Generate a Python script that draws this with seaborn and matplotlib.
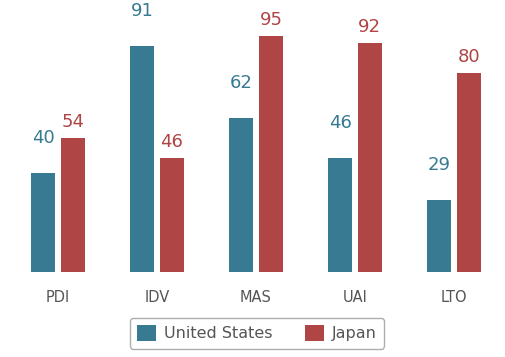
import pandas as pd
import seaborn as sns
import matplotlib.pyplot as plt

# 資料
dimensions = ['PDI', 'IDV', 'MAS', 'UAI', 'LTO']
us_scores = [40, 91, 62, 46, 29]
japan_scores = [54, 46, 95, 92, 80]
countries = ['United States', 'Japan']
colors = ['#377A91', '#AF4545']

df = pd.DataFrame({
    'dimension': dimensions * 2,
    'score': us_scores + japan_scores,
    'country': [countries[0]] * 5 + [countries[1]] * 5,
})

sns.set_style('white')
plt.rcParams['font.family'] = ['DejaVu Sans']

fig = plt.figure(figsize=(5.05, 3.57), dpi=100)
ax = fig.add_axes([0.017, 0.238, 0.98, 0.731])

sns.barplot(data=df, x='dimension', y='score', hue='country', palette=colors,
            width=0.6, gap=0.2, saturation=1, linewidth=0, ax=ax, legend=True)

ax.set_xlim(-0.5, 4.5)
ax.set_ylim(0, 105)
ax.set_xlabel('')
ax.set_ylabel('')
ax.set_yticks([])
ax.tick_params(axis='x', length=0, labelsize=10.5, labelcolor='#555555', pad=13)
sns.despine(ax=ax, left=True, bottom=True)

# 數值標籤
pads = [18.5, 5]
for cont, col, pad in zip(ax.containers, colors, pads):
    ax.bar_label(cont, padding=pad, color=col, fontsize=13)

handles, labels = ax.get_legend_handles_labels()
ax.legend(handles, labels, loc='center', bbox_to_anchor=(0.509, 0.066),
          bbox_transform=fig.transFigure, ncol=2, frameon=True, fancybox=True,
          edgecolor='#999999', fontsize=11.5, labelcolor='#555555',
          handlelength=1.2, handleheight=1.1, columnspacing=2.0,
          handletextpad=0.5, borderpad=0.45)

fig.savefig('out.png', dpi=100)
